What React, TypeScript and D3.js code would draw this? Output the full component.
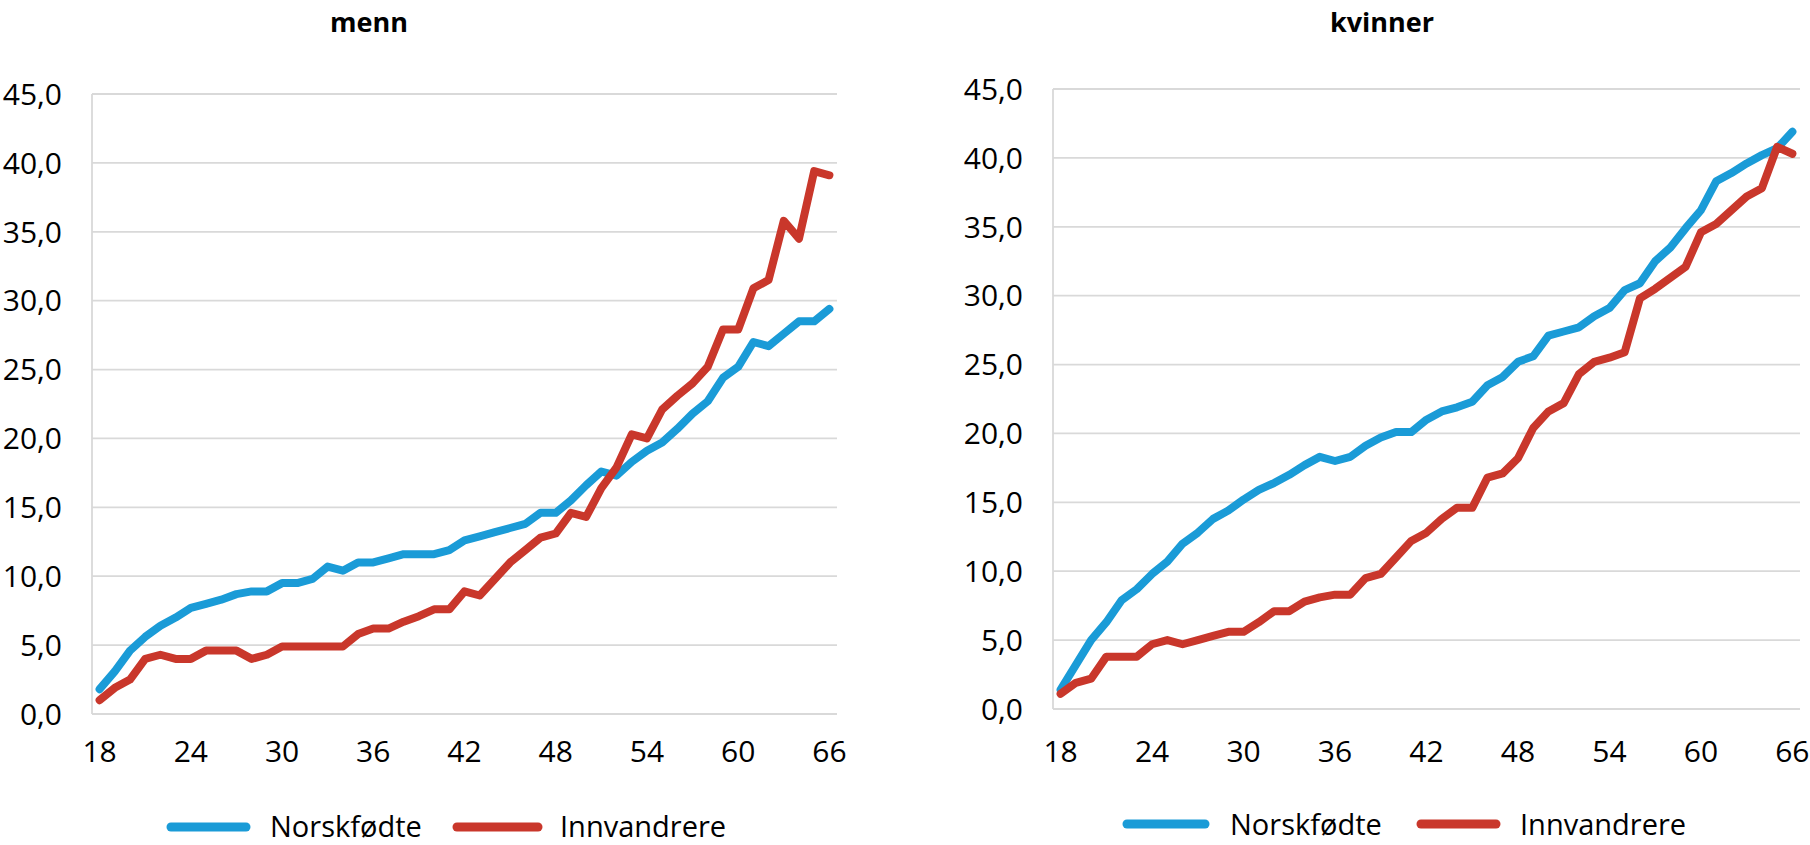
import React from "react";
import * as d3 from "d3";

const ages: number[] = d3.range(18, 67);
const xTickAges: number[] = [18, 24, 30, 36, 42, 48, 54, 60, 66];
const yTicks: number[] = [0, 5, 10, 15, 20, 25, 30, 35, 40, 45];
const seriesNames: string[] = ["Norskfødte", "Innvandrere"];
const panelTitles: string[] = ["menn", "kvinner"];

const mennNorskfodte: number[] = [
  1.8, 3.1, 4.6, 5.6, 6.4, 7.0, 7.7, 8.0, 8.3, 8.7, 8.9, 8.9, 9.5, 9.5, 9.8, 10.7, 10.4,
  11.0, 11.0, 11.3, 11.6, 11.6, 11.6, 11.9, 12.6, 12.9, 13.2, 13.5, 13.8, 14.6, 14.6, 15.5,
  16.6, 17.6, 17.3, 18.3, 19.1, 19.7, 20.7, 21.8, 22.7, 24.4, 25.2, 27.0, 26.7, 27.6, 28.5,
  28.5, 29.4,
];
const mennInnvandrere: number[] = [
  1.0, 1.9, 2.5, 4.0, 4.3, 4.0, 4.0, 4.6, 4.6, 4.6, 4.0, 4.3, 4.9, 4.9, 4.9, 4.9, 4.9, 5.8,
  6.2, 6.2, 6.7, 7.1, 7.6, 7.6, 8.9, 8.6, 9.8, 11.0, 11.9, 12.8, 13.1, 14.6, 14.3, 16.4, 17.9,
  20.3, 20.0, 22.1, 23.1, 24.0, 25.2, 27.9, 27.9, 30.9, 31.5, 35.8, 34.5, 39.4, 39.1,
];
const kvinnerNorskfodte: number[] = [
  1.4, 3.2, 5.0, 6.3, 7.9, 8.7, 9.8, 10.7, 12.0, 12.8, 13.8, 14.4, 15.2, 15.9, 16.4, 17.0,
  17.7, 18.3, 18.0, 18.3, 19.1, 19.7, 20.1, 20.1, 21.0, 21.6, 21.9, 22.3, 23.5, 24.1, 25.2,
  25.6, 27.1, 27.4, 27.7, 28.5, 29.1, 30.4, 30.9, 32.5, 33.5, 34.9, 36.2, 38.3, 38.9, 39.6,
  40.2, 40.7, 41.9,
];
const kvinnerInnvandrere: number[] = [
  1.1, 1.9, 2.2, 3.8, 3.8, 3.8, 4.7, 5.0, 4.7, 5.0, 5.3, 5.6, 5.6, 6.3, 7.1, 7.1, 7.8, 8.1,
  8.3, 8.3, 9.5, 9.8, 11.0, 12.2, 12.8, 13.8, 14.6, 14.6, 16.8, 17.1, 18.2, 20.4, 21.6, 22.2,
  24.3, 25.2, 25.5, 25.9, 29.8, 30.5, 31.3, 32.1, 34.6, 35.2, 36.2, 37.2, 37.8, 40.8, 40.3,
];

const COLORS = ["#1a9bd7", "#c9372b"];
const GRID = "#d9d9d9";
const FONT = "'Open Sans', 'Noto Sans', sans-serif";

const nbFormat = d3
  .formatLocale({ decimal: ",", thousands: " ", grouping: [3], currency: ["", " kr"] })
  .format(".1f");

type Layout = {
  left: number;
  right: number;
  top: number;
  bottom: number;
  titleX: number;
  titleY: number;
  tickLabelY: number;
  legendLineY: number;
  legendTextY: number;
  legend: { x1: number; x2: number; tx: number }[];
};

const layouts: Layout[] = [
  {
    left: 92,
    right: 837,
    top: 94,
    bottom: 714,
    titleX: 369,
    titleY: 32,
    tickLabelY: 762,
    legendLineY: 827,
    legendTextY: 837,
    legend: [
      { x1: 171, x2: 246, tx: 270 },
      { x1: 457, x2: 538, tx: 560 },
    ],
  },
  {
    left: 1053,
    right: 1800,
    top: 89,
    bottom: 709,
    titleX: 1382,
    titleY: 32,
    tickLabelY: 762,
    legendLineY: 824,
    legendTextY: 835,
    legend: [
      { x1: 1127, x2: 1205, tx: 1230 },
      { x1: 1421, x2: 1496, tx: 1520 },
    ],
  },
];

function Panel({ title, series, layout }: { title: string; series: number[][]; layout: Layout }) {
  const x = d3.scaleBand<number>().domain(ages).range([layout.left, layout.right]).padding(0);
  const y = d3.scaleLinear().domain([0, 45]).range([layout.bottom, layout.top]);
  const cx = (a: number) => (x(a) as number) + x.bandwidth() / 2;
  const line = d3
    .line<number>()
    .x((_, i) => cx(ages[i]))
    .y((v) => y(v));

  return (
    <g>
      <text
        x={layout.titleX}
        y={layout.titleY}
        textAnchor="middle"
        fontFamily={FONT}
        fontWeight="bold"
        fontSize={27}
        fill="#000"
      >
        {title}
      </text>
      {yTicks.map((t) => (
        <g key={t}>
          <line x1={layout.left} x2={layout.right} y1={y(t)} y2={y(t)} stroke={GRID} strokeWidth={1.8} />
          <text
            x={layout.left - 30}
            y={y(t)}
            dy="0.36em"
            textAnchor="end"
            fontFamily={FONT}
            fontSize={30}
            fill="#000"
          >
            {nbFormat(t)}
          </text>
        </g>
      ))}
      <line x1={layout.left} x2={layout.left} y1={y(45)} y2={y(0)} stroke={GRID} strokeWidth={1.8} />
      {xTickAges.map((a) => (
        <text
          key={a}
          x={cx(a)}
          y={layout.tickLabelY}
          textAnchor="middle"
          fontFamily={FONT}
          fontSize={30}
          fill="#000"
        >
          {a}
        </text>
      ))}
      {series.map((s, i) => (
        <path
          key={i}
          d={line(s) || ""}
          fill="none"
          stroke={COLORS[i]}
          strokeWidth={8}
          strokeLinejoin="round"
          strokeLinecap="round"
        />
      ))}
      {seriesNames.map((n, i) => (
        <g key={n}>
          <line
            x1={layout.legend[i].x1}
            x2={layout.legend[i].x2}
            y1={layout.legendLineY}
            y2={layout.legendLineY}
            stroke={COLORS[i]}
            strokeWidth={9}
            strokeLinecap="round"
          />
          <text
            x={layout.legend[i].tx}
            y={layout.legendTextY}
            fontFamily={FONT}
            fontSize={29}
            fill="#000"
          >
            {n}
          </text>
        </g>
      ))}
    </g>
  );
}

export default function App() {
  return (
    <svg
      width={1810}
      height={845}
      viewBox="0 0 1810 845"
      style={{ position: "absolute", left: 0, top: 0, background: "#fff" }}
    >
      <rect width={1810} height={845} fill="#fff" />
      <Panel title={panelTitles[0]} series={[mennNorskfodte, mennInnvandrere]} layout={layouts[0]} />
      <Panel title={panelTitles[1]} series={[kvinnerNorskfodte, kvinnerInnvandrere]} layout={layouts[1]} />
    </svg>
  );
}
